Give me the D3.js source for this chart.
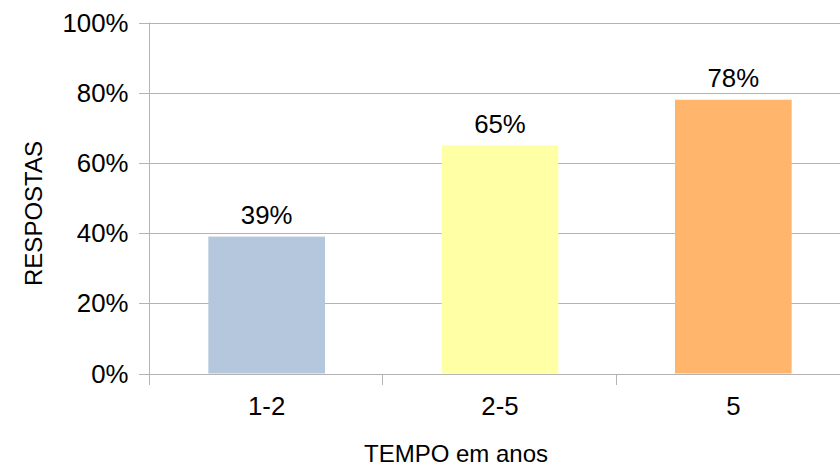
<!DOCTYPE html>
<html>
<head>
<meta charset="utf-8">
<script src="https://cdn.jsdelivr.net/npm/d3@7"></script>
<style>
  html, body { margin: 0; padding: 0; background: #fff; }
  svg { display: block; font-family: "Liberation Sans", Arial, sans-serif; }
</style>
</head>
<body>
<svg id="chart" width="840" height="465"></svg>
<script>
// Share of responses by time band (years)
const categories = ["1-2", "2-5", "5"];
const values = [0.39, 0.65, 0.78];
const barColors = ["#b4c7dc", "#ffffa6", "#ffb66c"];
const yTicks = [0, 0.2, 0.4, 0.6, 0.8, 1.0];
const xTitle = "TEMPO em anos";
const yTitle = "RESPOSTAS";

const svg = d3.select("#chart");
const plotLeft = 150, plotRight = 850, plotTop = 22.5, plotBottom = 373.5;
const grid = "#b3b3b3";
const labelSize = 25.8;

const x = d3.scaleBand().domain(categories).range([plotLeft, plotRight]).paddingInner(0.5).paddingOuter(0.25);
const xOuter = d3.scaleBand().domain(categories).range([plotLeft, plotRight]);
const y = d3.scaleLinear().domain([0, 1]).range([plotBottom, plotTop]);
const fmt = d3.format(".0%");

// horizontal gridlines
svg.append("g").selectAll("line").data(yTicks).join("line")
  .attr("x1", plotLeft - 11).attr("x2", plotRight)
  .attr("y1", d => Math.round(y(d)) + 0.5).attr("y2", d => Math.round(y(d)) + 0.5)
  .attr("stroke", grid).attr("stroke-width", 1);

// bars
svg.append("g").selectAll("rect").data(values).join("rect")
  .attr("x", (d, i) => x(categories[i]))
  .attr("width", x.bandwidth())
  .attr("y", d => y(d))
  .attr("height", d => y(0) - y(d))
  .attr("fill", (d, i) => barColors[i]);

// baseline drawn over the bars
svg.append("line")
  .attr("x1", plotLeft - 11).attr("x2", plotRight)
  .attr("y1", Math.round(y(0)) + 0.5).attr("y2", Math.round(y(0)) + 0.5)
  .attr("stroke", grid);

// y axis line
svg.append("line")
  .attr("x1", plotLeft - 0.5).attr("x2", plotLeft - 0.5)
  .attr("y1", plotTop).attr("y2", plotBottom + 11)
  .attr("stroke", grid);

// x category tick marks at band boundaries
const bounds = categories.map(c => xOuter(c)).concat([plotRight]);
svg.append("g").selectAll("line").data(bounds).join("line")
  .attr("x1", d => Math.round(d) - 0.5).attr("x2", d => Math.round(d) - 0.5)
  .attr("y1", Math.round(y(0))).attr("y2", Math.round(y(0)) + 11)
  .attr("stroke", grid);

// y tick labels
svg.append("g").selectAll("text").data(yTicks).join("text")
  .attr("x", 128.5).attr("y", d => y(d) + 9)
  .attr("text-anchor", "end")
  .attr("font-size", labelSize).attr("fill", "#000")
  .text(d => fmt(d));

// x category labels
svg.append("g").selectAll("text").data(categories).join("text")
  .attr("x", d => xOuter(d) + xOuter.bandwidth() / 2)
  .attr("y", 415)
  .attr("text-anchor", "middle")
  .attr("font-size", labelSize).attr("fill", "#000")
  .text(d => d);

// value labels
svg.append("g").selectAll("text").data(values).join("text")
  .attr("x", (d, i) => x(categories[i]) + x.bandwidth() / 2)
  .attr("y", d => y(d) - 12.5)
  .attr("text-anchor", "middle")
  .attr("font-size", labelSize).attr("fill", "#000")
  .text(d => fmt(d));

// axis titles
svg.append("text")
  .attr("x", 456).attr("y", 462)
  .attr("text-anchor", "middle")
  .attr("font-size", 24).attr("fill", "#000")
  .text(xTitle);

svg.append("text")
  .attr("transform", "translate(42,213.5) rotate(-90)")
  .attr("text-anchor", "middle")
  .attr("font-size", 24).attr("fill", "#000")
  .text(yTitle);
</script>
</body>
</html>
